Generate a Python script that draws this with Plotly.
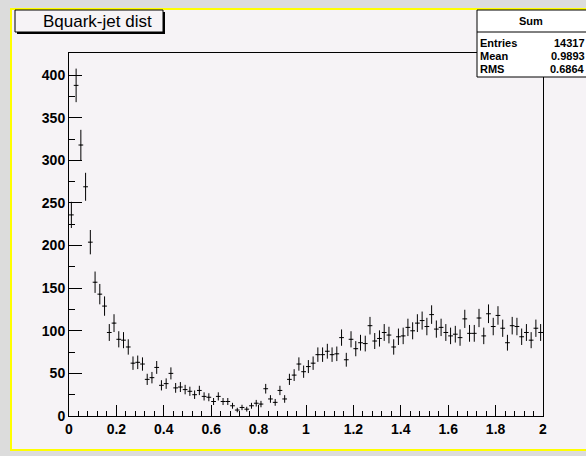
import numpy as np
import plotly.graph_objects as go

# ---- data ----
bin_low = 0.0
bin_high = 2.0
n_bins = 100
counts = [
    236, 388, 318, 269, 204, 157, 143, 129, 98, 109,
    90, 89, 81, 62, 63, 61, 43, 45, 57, 36,
    38, 50, 33, 34, 31, 29, 25, 30, 23, 22,
    17, 23, 17, 17, 12, 7, 10, 8, 12, 15,
    14, 32, 20, 16, 30, 20, 43, 48, 61, 52,
    58, 62, 72, 72, 76, 72, 73, 92, 66, 90,
    79, 86, 85, 106, 88, 91, 98, 95, 81, 93,
    94, 104, 100, 109, 112, 105, 119, 102, 104, 98,
    94, 96, 92, 114, 97, 97, 115, 94, 120, 105,
    118, 103, 86, 106, 105, 93, 98, 89, 103, 98,
]
title_text = "Bquark-jet dist"
stats_name = "Sum"
stats_labels = ["Entries", "Mean", "RMS"]
stats_values = ["14317", "0.9893", "0.6864"]

width_bin = (bin_high - bin_low) / n_bins
centers = [bin_low + (i + 0.5) * width_bin for i in range(n_bins)]
errors = [float(np.sqrt(c)) for c in counts]

# ---- layout geometry (pixels) ----
W, H = 586, 456
L, R, T, B = 69, 543, 53, 416
PAD = "#f6f3f6"
GREY = "#dcdcdc"


def xp(px):
    return (px - L) / (R - L)


def yp(py):
    return (B - py) / (B - T)


fig = go.Figure()
fig.add_trace(go.Scatter(
    x=centers, y=counts, mode="markers",
    marker=dict(size=1, color="black"),
    error_x=dict(type="constant", value=width_bin / 2, width=0, thickness=1, color="black"),
    error_y=dict(type="data", array=errors, width=0, thickness=1, color="black"),
    showlegend=False, hoverinfo="skip",
))

axis_font = dict(family="Liberation Sans", size=14, color="black", weight="bold")
stats_font = dict(family="Liberation Sans", size=11, color="black", weight="bold")

shapes = [
    # canvas pad with yellow border
    dict(type="rect", xref="paper", yref="paper", x0=xp(11), x1=xp(640), y0=yp(9), y1=yp(450),
         fillcolor=PAD, line=dict(color="#ffff00", width=2), layer="below"),
    # title box shadow
    dict(type="line", xref="paper", yref="paper", x0=xp(164), x1=xp(164), y0=yp(12), y1=yp(34),
         line=dict(color="black", width=2)),
    dict(type="line", xref="paper", yref="paper", x0=xp(17), x1=xp(165), y0=yp(33), y1=yp(33),
         line=dict(color="black", width=2)),
    # title box
    dict(type="rect", xref="paper", yref="paper", x0=xp(15), x1=xp(163), y0=yp(10), y1=yp(32),
         fillcolor=PAD, line=dict(color="black", width=1)),
    # stats box
    dict(type="rect", xref="paper", yref="paper", x0=xp(477), x1=xp(640), y0=yp(10), y1=yp(77),
         fillcolor="white", line=dict(color="black", width=1)),
    dict(type="line", xref="paper", yref="paper", x0=xp(477), x1=xp(640), y0=yp(32), y1=yp(32),
         line=dict(color="black", width=1)),
]

annotations = [
    dict(text=title_text, xref="paper", yref="paper", x=xp(97), y=yp(21),
         xanchor="center", yanchor="middle", showarrow=False,
         font=dict(family="Liberation Sans", size=17, color="black")),
    dict(text=stats_name, xref="paper", yref="paper", x=xp(531), y=yp(21),
         xanchor="center", yanchor="middle", showarrow=False, font=stats_font),
]
row_y = [43.5, 56, 68.5]
for lab, val, ry in zip(stats_labels, stats_values, row_y):
    annotations.append(dict(text=lab, xref="paper", yref="paper", x=xp(479), y=yp(ry),
                            xanchor="left", yanchor="middle", showarrow=False,
                            font=stats_font, borderpad=0))
    annotations.append(dict(text=val, xref="paper", yref="paper", x=xp(586), y=yp(ry),
                            xanchor="right", yanchor="middle", showarrow=False,
                            font=stats_font, borderpad=0))

fig.update_layout(
    width=W, height=H,
    margin=dict(l=L, r=W - R, t=T, b=H - B, pad=0),
    paper_bgcolor=GREY, plot_bgcolor="rgba(0,0,0,0)",
    shapes=shapes, annotations=annotations,
    xaxis=dict(range=[bin_low, bin_high], dtick=0.2, tick0=0, ticks="inside", ticklen=11,
               tickcolor="black", tickwidth=1, showgrid=False, zeroline=False,
               showline=True, linecolor="black", linewidth=1, mirror=True,
               tickfont=axis_font,
               minor=dict(dtick=0.04, ticks="inside", ticklen=5, tickcolor="black", showgrid=False)),
    yaxis=dict(range=[0, 426], dtick=50, tick0=0, ticks="inside", ticklen=13,
               tickcolor="black", tickwidth=1, showgrid=False, zeroline=False,
               showline=True, linecolor="black", linewidth=1, mirror=True,
               tickfont=axis_font,
               minor=dict(dtick=25, ticks="inside", ticklen=6, tickcolor="black", showgrid=False)),
)

fig.write_html("out.html")
